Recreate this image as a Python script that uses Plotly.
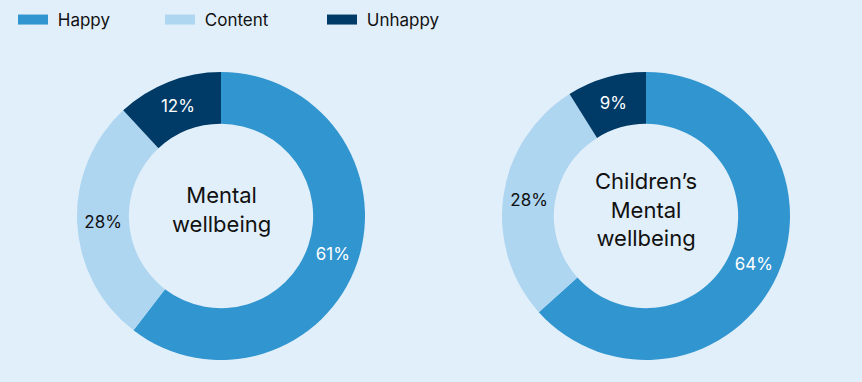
import plotly.graph_objects as go

categories = ["Happy", "Content", "Unhappy"]
adult_values = [61, 28, 12]
child_values = [64, 28, 9]
titles = ["Mental<br>wellbeing", "Children’s<br>Mental<br>wellbeing"]
colors = ["#3195d0", "#aed6f1", "#003a66"]
text_colors = ["#ffffff", "#111111", "#ffffff"]

W, H = 862, 382
FONT = "Inter"

def px_domain(x0, x1, y0, y1):
    return dict(x=[x0 / W, x1 / W], y=[1 - y1 / H, 1 - y0 / H])

fig = go.Figure()

domains = [px_domain(77, 365, 72, 360), px_domain(502, 790, 72, 360)]
for vals, title, dom in zip([adult_values, child_values], titles, domains):
    fig.add_trace(go.Pie(
        labels=categories, values=vals, hole=0.64, sort=False,
        direction="clockwise", rotation=0, domain=dom,
        marker=dict(colors=colors, line=dict(width=0)),
        texttemplate="%{value}%", textposition="inside",
        insidetextorientation="horizontal",
        textfont=dict(family=FONT, size=17, color=text_colors),
        showlegend=False, hoverinfo="label+value",
    ))
    fig.add_annotation(
        x=sum(dom["x"]) / 2, y=sum(dom["y"]) / 2, xref="paper", yref="paper",
        xanchor="center", yanchor="middle",
        text=title, showarrow=False, yshift=6, align="center",
        font=dict(family=FONT, size=22, color="#111111"),
    )

legend_x = [13, 160, 322]
legend_names = ["legend", "legend2", "legend3"]
for name, col, lg in zip(categories, colors, legend_names):
    fig.add_trace(go.Scatter(
        x=[None], y=[None], mode="lines", name="\u00a0" + name,
        line=dict(color=col, width=10), legend=lg, showlegend=True,
    ))

leg_common = dict(
    orientation="h", yanchor="middle", y=1 - 20 / H, xanchor="left",
    bgcolor="rgba(0,0,0,0)", itemwidth=30,
    font=dict(family=FONT, size=17, color="#111111"),
)
layout_legends = {}
for lg, lx in zip(legend_names, legend_x):
    layout_legends[lg] = dict(x=lx / W, **leg_common)

fig.update_layout(
    width=W, height=H,
    margin=dict(l=0, r=0, t=0, b=0),
    paper_bgcolor="#e1effa", plot_bgcolor="#e1effa",
    xaxis=dict(visible=False), yaxis=dict(visible=False),
    font=dict(family=FONT),
    **layout_legends,
)

fig.write_html(
    "out.html",
    config={"displayModeBar": False},
    post_script="document.body.style.margin='0';document.body.style.background='#e1effa';",
)
